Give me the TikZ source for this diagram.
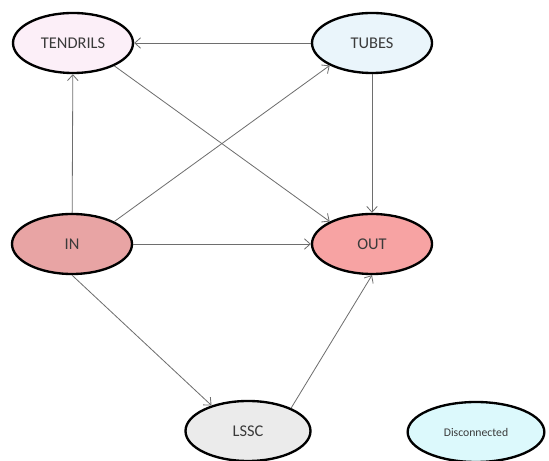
\documentclass[tikz,border=0pt]{standalone}
\usepackage{fontspec}
\setmainfont{Carlito}
\usepackage{xcolor}
\usepackage{tikz}
\usetikzlibrary{shapes.geometric,arrows.meta}

\definecolor{tendrilfill}{HTML}{FCEFF8}
\definecolor{tubefill}{HTML}{EAF5FB}
\definecolor{infill}{HTML}{E8A4A4}
\definecolor{outfill}{HTML}{F7A3A3}
\definecolor{lsscfill}{HTML}{EBEBEB}
\definecolor{discfill}{HTML}{DCF9FC}
\definecolor{linkgray}{HTML}{6E6E6E}
\definecolor{labelgray}{HTML}{3A3A3A}

\begin{document}
\begin{tikzpicture}[x=0.03cm,y=-0.03cm,
						comp/.style={ellipse, draw=black, line width=2pt, minimum width=3.6cm, minimum height=1.8cm, text=labelgray, font=\fontsize{14}{16}\selectfont},
						link/.style={draw=linkgray, line width=0.7pt, -{Straight Barb[length=5pt,width=9pt]}}]
						\useasboundingbox (0,0) rectangle (549,461);
						
						\coordinate (T) at (73,43);
						\coordinate (U) at (372,43);
						\coordinate (I) at (72,244);
						\coordinate (O) at (372,244);
						\coordinate (L) at (248,431);
						\coordinate (D) at (476,432);
						
						\node[comp, fill=tendrilfill] (tendrils) at (T) {TENDRILS};
						\node[comp, fill=tubefill] (tubes) at (U) {TUBES};
						\node[comp, fill=infill] (in) at (I) {IN};
						\node[comp, fill=outfill] (out) at (O) {OUT};
						\node[comp, fill=lsscfill, minimum width=3.75cm] (lssc) at (L) {LSSC};
						\node[comp, fill=discfill, minimum width=4.1cm, font=\fontsize{10}{12}\selectfont] (disc) at (D) {Disconnected};
						
						\draw[link] (tubes) -- (tendrils);
						\draw[link] (in) -- (tendrils);
						\draw[link] (in.28) -- (tubes.208);
						\draw[link] (tendrils.331) -- (out.152);
						\draw[link] (tubes) -- (out);
						\draw[link] (in) -- (out);
						\draw[link] (in.south) -- (lssc.145);
						\draw[link] (lssc.28) -- (out.south);
					\end{tikzpicture}
\end{document}
